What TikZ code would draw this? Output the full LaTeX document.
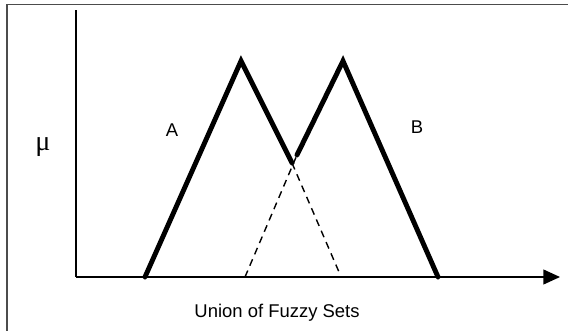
\documentclass[tikz,border=0pt]{standalone}
\usepackage{fontspec}
\setmainfont{Liberation Sans}
\newfontfamily\symfont{Liberation Serif}
\usetikzlibrary{arrows.meta}

\begin{document}
\begin{tikzpicture}[
        x=0.02cm, y=-0.02cm,
        every node/.style={font=\fontsize{10.5}{12}\selectfont, inner sep=0pt},
        axis/.style={line width=0.8pt},
        member/.style={line width=2.8pt, line cap=round},
        hidden/.style={line width=0.8pt, dash pattern=on 4pt off 3pt}
    ]
    \useasboundingbox (0,0) rectangle (568,331);

    % Frame (open at right and bottom)
    \draw[line width=1.1pt, black!70] (7,345) -- (7,4.5) -- (575,4.5);

    % Axes
    \coordinate (O) at (76,277);
    \coordinate (Ytop) at (76,10);
    \coordinate (Xend) at (560,277);
    \draw[axis] (O) -- (Ytop);
    \draw[axis, -{Triangle[length=9.5pt, width=8.5pt]}] (O) -- (Xend);

    % Set A
    \coordinate (A0) at (145,277);
    \coordinate (A1) at (241,61);
    \coordinate (Am) at (292,163);
    \coordinate (A2) at (339,272);
    % Set B
    \coordinate (B0) at (245,277);
    \coordinate (Bm) at (297,155);
    \coordinate (B1) at (343,61);
    \coordinate (B2) at (438,277);

    % Union (thick)
    \draw[member] (A0) -- (A1) -- (Am);
    \draw[member] (Bm) -- (B1) -- (B2);

    % Hidden parts (dashed)
    \draw[hidden] (Am) -- (A2);
    \draw[hidden] (B0) -- (Bm);

    % Labels
    \node (mu) at (43,147) {\symfont\fontsize{16}{18}\selectfont μ};
    \node (la) at (172,130) {A};
    \node (lb) at (417,127) {B};
    \node (cap) at (277,313) {Union of Fuzzy Sets};
\end{tikzpicture}
\end{document}
